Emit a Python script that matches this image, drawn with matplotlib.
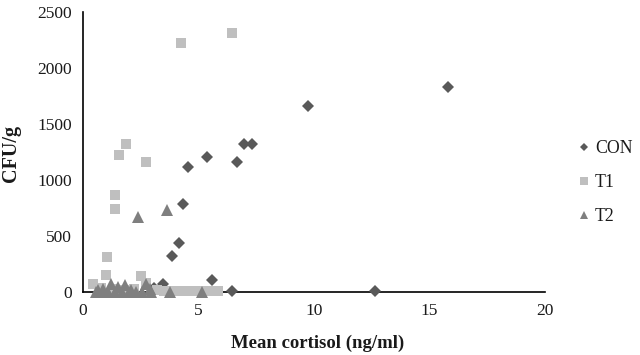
import matplotlib
matplotlib.use("Agg")
import matplotlib.pyplot as plt

# Data
con_x = [15.8, 9.75, 4.55, 5.36, 6.66, 6.98, 7.3, 4.33, 4.16, 3.85, 5.58, 6.45, 12.65, 3.07, 3.46]
con_y = [1830, 1660, 1116, 1205, 1160, 1320, 1320, 785, 437, 321, 107, 5, 5, 40, 70]

t1_x = [4.24, 6.45, 1.86, 1.56, 2.73, 1.39, 1.39, 1.03, 1.0, 0.45, 2.52, 2.73,
        3.5, 3.9, 4.3, 4.7, 5.1, 5.5, 5.85, 0.8, 1.3, 1.8, 2.2, 3.2]
t1_y = [2223, 2312, 1320, 1223, 1160, 866, 741, 313, 155, 70, 143, 80,
        10, 10, 10, 10, 10, 10, 10, 40, 30, 20, 30, 15]

t2_x = [2.38, 3.63, 0.65, 0.87, 1.21, 1.52, 1.82, 2.08, 2.73, 2.9, 3.77, 5.15,
        0.55, 0.85, 1.1, 1.4, 1.7, 2.0, 2.3, 2.55, 2.95]
t2_y = [670, 732, 20, 27, 70, 45, 63, 20, 70, 27, 0, 0,
        0, 0, 0, 0, 0, 0, 0, 0, 0]

series_names = ["CON", "T1", "T2"]
x_ticks = [0, 5, 10, 15, 20]
y_ticks = [0, 500, 1000, 1500, 2000, 2500]

plt.rcParams['font.family'] = ['Liberation Serif', 'DejaVu Serif']

fig = plt.figure(figsize=(6.4, 3.55), dpi=100)
ax = fig.add_axes([83/640, 1 - 292/355, (545 - 83)/640, (292 - 12)/355])

ax.plot(con_x, con_y, linestyle='none', marker='D', markersize=5.8,
        color='#595959', markeredgewidth=0, label=series_names[0], clip_on=False, zorder=3)
ax.plot(t1_x, t1_y, linestyle='none', marker='s', markersize=7.7,
        color='#bfbfbf', markeredgewidth=0, label=series_names[1], clip_on=False, zorder=4)
ax.plot(t2_x, t2_y, linestyle='none', marker='^', markersize=8.0,
        color='#7f7f7f', markeredgewidth=0, label=series_names[2], clip_on=False, zorder=5)

ax.set_xlim(0, 20)
ax.set_ylim(0, 2500)
ax.set_xticks(x_ticks)
ax.set_yticks(y_ticks)
ax.tick_params(length=0, labelsize=12.5, colors='#1a1a1a', pad=8)
for s in ['top', 'right']:
    ax.spines[s].set_visible(False)
for s in ['left', 'bottom']:
    ax.spines[s].set_color('black')
    ax.spines[s].set_linewidth(1.2)
    ax.spines[s].set_zorder(2)

fig.text(318/640, 1 - 343/355, "Mean cortisol (ng/ml)", ha='center', va='center',
         fontsize=13.5, fontweight='bold', color='#1a1a1a')
fig.text(11/640, 1 - 153/355, "CFU/g", ha='center', va='center', rotation=90,
         fontsize=14.5, fontweight='bold', color='#1a1a1a')

leg = ax.legend(loc='upper left', bbox_to_anchor=(578/640, 1 - 140/355),
                bbox_transform=fig.transFigure, frameon=False, fontsize=12.8,
                markerscale=0.75, handlelength=0.7, handletextpad=0.25,
                labelspacing=0.95, borderaxespad=0, borderpad=0)
for t in leg.get_texts():
    t.set_color('#1a1a1a')

fig.savefig("out.png", dpi=100, facecolor='white')
